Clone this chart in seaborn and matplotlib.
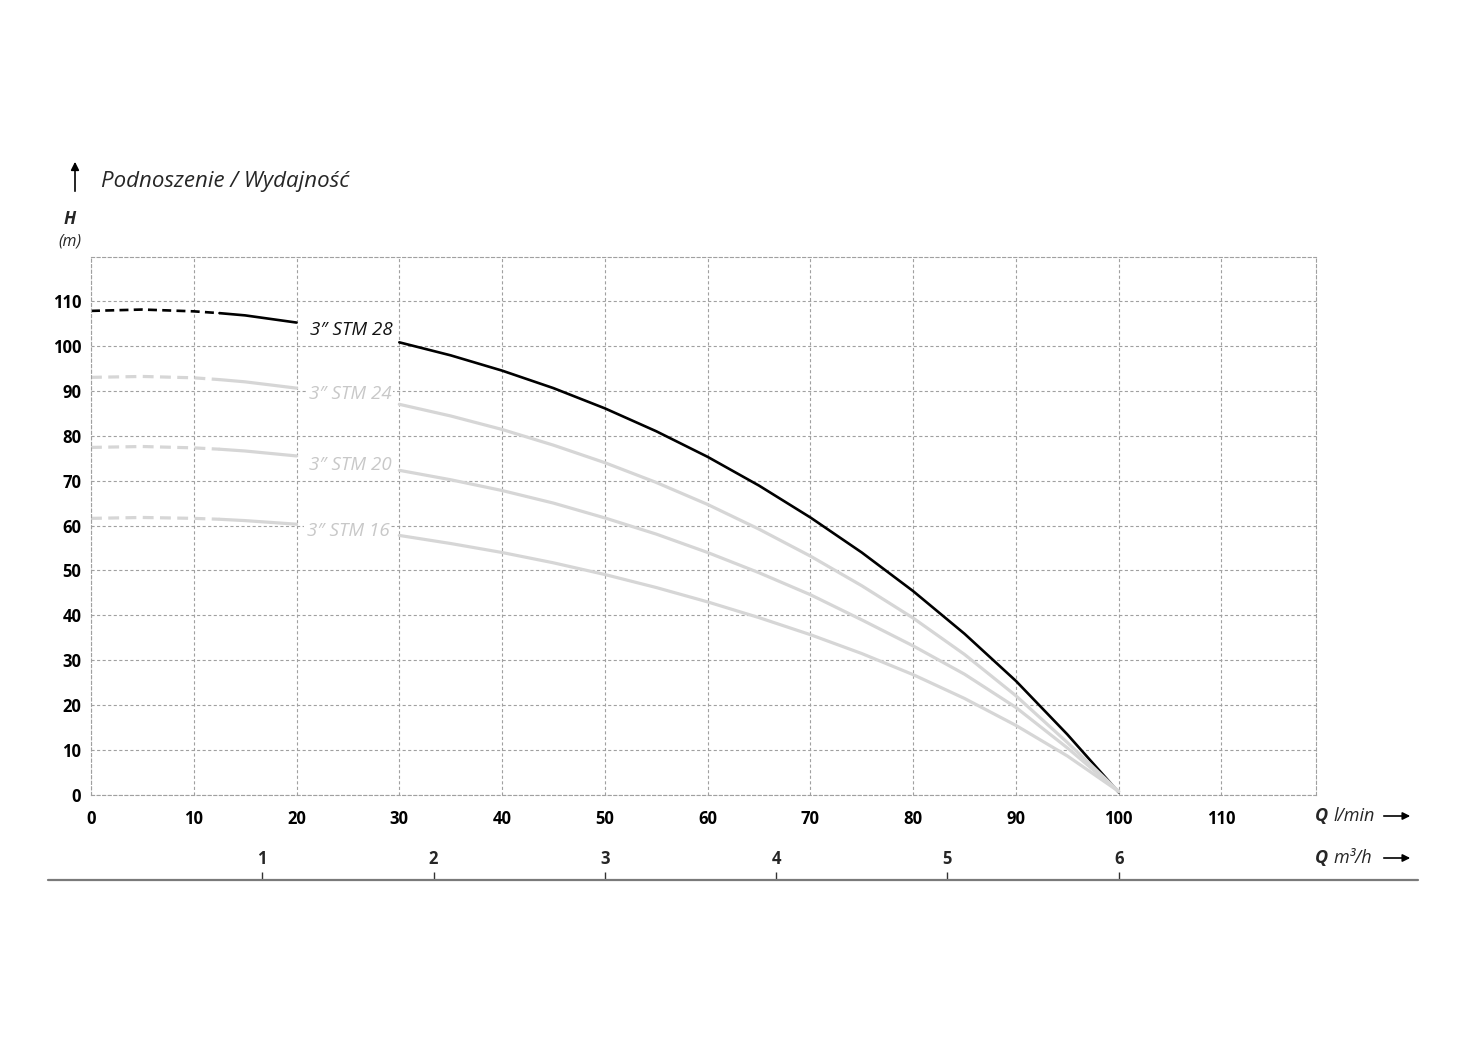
import matplotlib
matplotlib.use("Agg")
import matplotlib.pyplot as plt
import seaborn as sns
import pandas as pd
from matplotlib.lines import Line2D

# flow in l/min and head in m
q_lmin = [0, 5, 10, 12.5, 15, 20, 25, 30, 35, 40, 45, 50, 55, 60, 65, 70, 75, 80, 85, 90, 95, 100]
h_stm28 = [107.8, 108.1, 107.7, 107.3, 106.8, 105.2, 103.2, 100.8, 97.9, 94.5, 90.6, 86.1, 81.0, 75.3, 68.9, 61.8, 54.0, 45.4, 35.9, 25.4, 13.5, 0.6]
h_stm24 = [93.0, 93.2, 92.9, 92.5, 92.0, 90.6, 89.0, 87.0, 84.4, 81.4, 77.9, 74.0, 69.6, 64.7, 59.2, 53.2, 46.6, 39.4, 31.3, 22.1, 11.7, 0.8]
h_stm20 = [77.4, 77.6, 77.3, 77.0, 76.6, 75.5, 74.0, 72.3, 70.2, 67.8, 65.0, 61.7, 58.1, 54.0, 49.5, 44.6, 39.0, 33.2, 26.9, 19.5, 10.5, 0.8]
h_stm16 = [61.6, 61.8, 61.6, 61.4, 61.1, 60.3, 59.2, 57.8, 56.0, 54.0, 51.7, 49.1, 46.2, 43.0, 39.5, 35.7, 31.5, 26.8, 21.5, 15.5, 8.7, 0.8]

models = ["3\u2033 STM 28", "3\u2033 STM 24", "3\u2033 STM 20", "3\u2033 STM 16"]
heads = [h_stm28, h_stm24, h_stm20, h_stm16]
colors = ["#000000", "#d6d6d6", "#d6d6d6", "#d6d6d6"]
label_colors = ["#111111", "#c8c8c8", "#c8c8c8", "#c8c8c8"]
label_pos = [(25.3, 103.6), (25.2, 89.3), (25.2, 73.5), (25.0, 58.8)]

x_ticks = list(range(0, 120, 10))
y_ticks = list(range(0, 120, 10))
m3h_ticks = [1, 2, 3, 4, 5, 6]

rows = []
for m, h in zip(models, heads):
    for q, v in zip(q_lmin, h):
        rows.append({"Q": q, "H": v, "model": m})
df = pd.DataFrame(rows)

sns.set_theme(style="white")
plt.rcParams["font.family"] = ["Open Sans", "DejaVu Sans"]

W, H = 1458, 1042
fig = plt.figure(figsize=(W / 100, H / 100), dpi=100)
ax = fig.add_axes([91 / W, 1 - 795 / H, (1316 - 91) / W, (795 - 257) / H])

for m, c, lw in zip(models, colors, [1.9, 2.3, 2.3, 2.3]):
    d = df[df.model == m]
    dash = d[d.Q <= 12.5]
    seg1 = d[(d.Q >= 12.5) & (d.Q <= 20)]
    seg2 = d[d.Q >= 30]
    sns.lineplot(data=dash, x="Q", y="H", ax=ax, color=c, lw=lw,
                 linestyle=(0, (3.4, 2.0)), estimator=None, sort=False)
    sns.lineplot(data=seg1, x="Q", y="H", ax=ax, color=c, lw=lw, estimator=None, sort=False)
    sns.lineplot(data=seg2, x="Q", y="H", ax=ax, color=c, lw=lw, estimator=None, sort=False)

for m, (lx, ly), lc in zip(models, label_pos, label_colors):
    ax.text(lx, ly, m, ha="center", va="center", fontsize=13.5, style="italic", color=lc,
            bbox=dict(facecolor="white", edgecolor="none", pad=1.5), zorder=5)

ax.set_xlim(0, 119.2)
ax.set_ylim(0, 119.8)
ax.set_xticks(x_ticks)
ax.set_yticks(y_ticks)
ax.set_xlabel("")
ax.set_ylabel("")
ax.grid(True, color="#a0a0a0", lw=0.8, linestyle=(0, (2.8, 2.2)))
for s in ax.spines.values():
    s.set_visible(True)
    s.set_color("#a0a0a0")
    s.set_linewidth(0.8)
    s.set_linestyle((0, (2.8, 2.2)))
ax.tick_params(axis="both", length=0, labelsize=12, colors="black")
ax.tick_params(axis="y", pad=7)
ax.tick_params(axis="x", pad=11)
for t in ax.get_xticklabels() + ax.get_yticklabels():
    t.set_fontweight("bold")

# second flow scale in m3/h
sec = ax.secondary_xaxis(-0.158, functions=(lambda x: x * 0.06, lambda x: x / 0.06))
sec.set_alignment("top")
sec.set_xticks(m3h_ticks)
sec.tick_params(axis="x", direction="out", length=6, width=1, color="#333333",
                labelsize=12, pad=3)
for t in sec.get_xticklabels():
    t.set_fontweight("bold")
for s in sec.spines.values():
    s.set_visible(False)

fig.add_artist(Line2D([48 / W, 1418 / W], [1 - 880 / H, 1 - 880 / H],
                      transform=fig.transFigure, color="#7a7a7a", lw=1.6))

# axis titles
fig.text(101 / W, 1 - 182 / H, "Podnoszenie / Wydajno\u015b\u0107", fontsize=16,
         style="italic", va="center", ha="left")
fig.text(70 / W, 1 - 219 / H, "H", fontsize=12.5, style="italic", fontweight="bold",
         va="center", ha="center")
fig.text(70 / W, 1 - 241 / H, "(m)", fontsize=11.5, style="italic", va="center", ha="center")
ax.annotate("", xy=(75 / W, 1 - 159 / H), xytext=(75 / W, 1 - 194 / H),
            xycoords="figure fraction", textcoords="figure fraction",
            arrowprops=dict(arrowstyle="-|>", color="black", lw=1.2, mutation_scale=12))

for yy, unit in [(816, "l/min"), (858, "m\u00b3/h")]:
    fig.text(1315 / W, 1 - yy / H, "Q", fontsize=13, style="italic", fontweight="bold",
             va="center", ha="left")
    fig.text(1333 / W, 1 - yy / H, unit, fontsize=13, style="italic", va="center", ha="left")
    ax.annotate("", xy=(1413 / W, 1 - yy / H), xytext=(1381 / W, 1 - yy / H),
                xycoords="figure fraction", textcoords="figure fraction",
                arrowprops=dict(arrowstyle="-|>", color="black", lw=1.2, mutation_scale=11))

fig.savefig("out.png", dpi=100)
